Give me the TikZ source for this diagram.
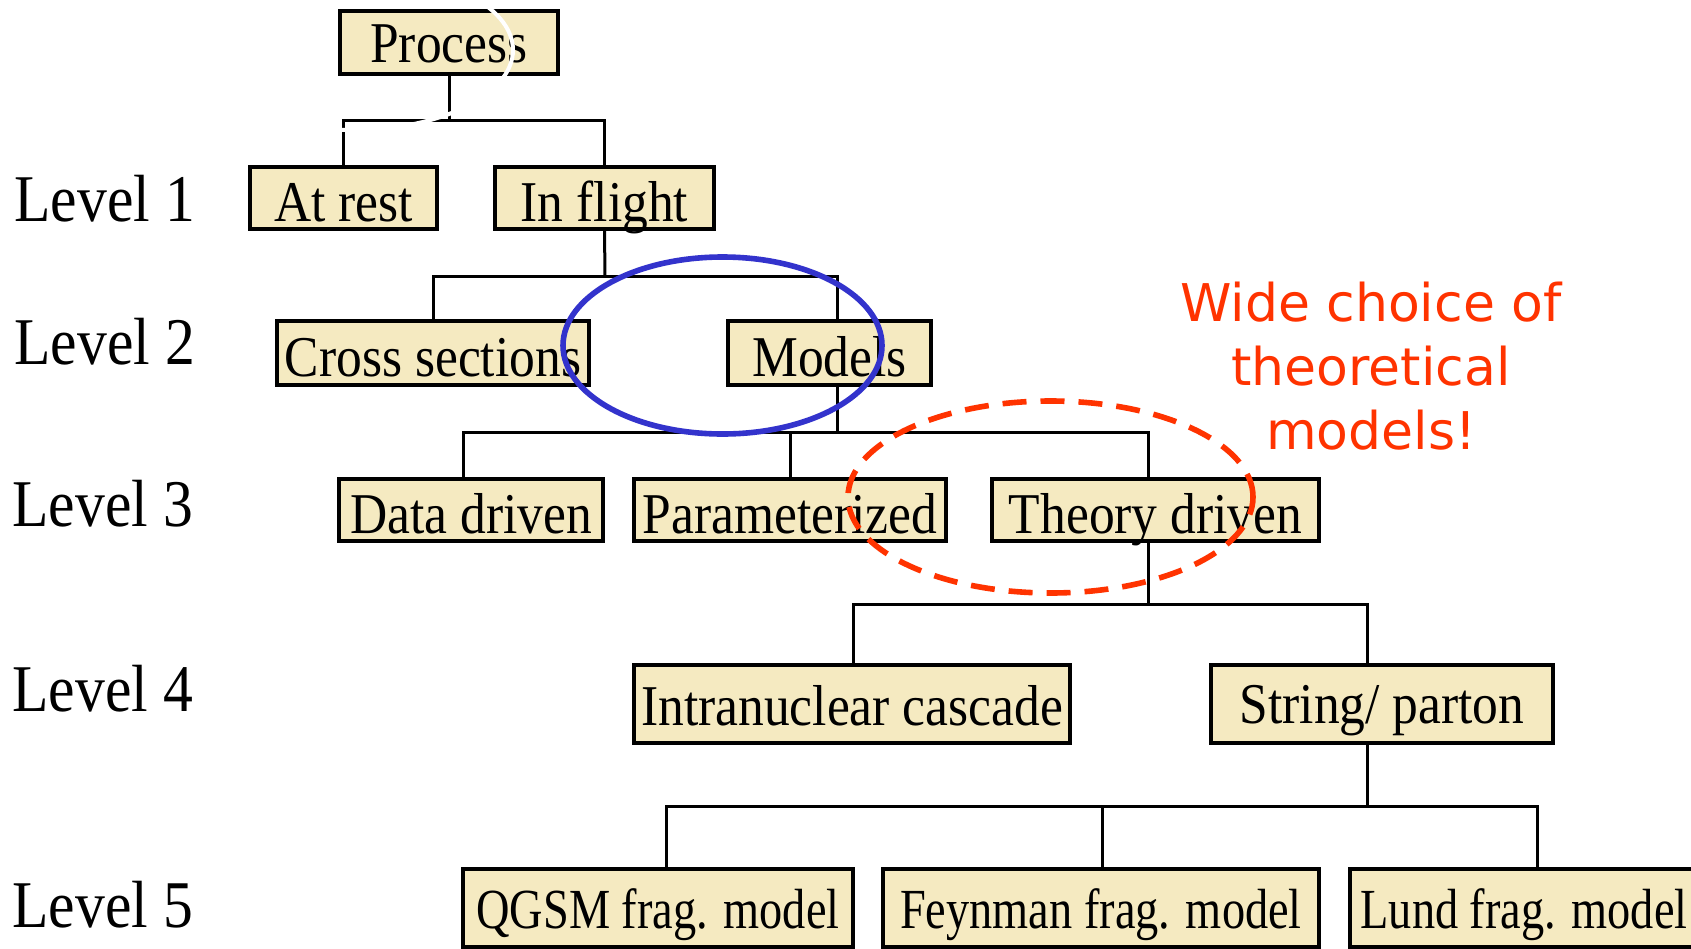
\documentclass[tikz,border=0pt]{standalone}
\usepackage{fontspec}
\setmainfont{Liberation Serif}
\newfontfamily\notefont{DejaVu Sans}
\usepackage{graphicx}
\definecolor{boxfill}{RGB}{245,234,193}
\definecolor{ovalblue}{RGB}{51,51,204}
\definecolor{notered}{RGB}{255,51,0}
\newcommand\tx[1]{\scalebox{1}[1.12]{#1}}
\newcommand\txb[1]{\scalebox{0.9}[1.1]{#1}}
\begin{document}
\begin{tikzpicture}[x=0.5pt,y=-0.5pt,
  box/.style={draw, line width=1.8pt, fill=boxfill, inner sep=0pt,
    font=\fontsize{25.75}{30}\selectfont, text height=23pt, text depth=0pt},
  conn/.style={line width=1.5pt},
  lvl/.style={anchor=base west, inner sep=0pt, font=\fontsize{29.8}{34}\selectfont}]
\useasboundingbox (0,0) rectangle (1691,948);
\fill[white] (0,0) rectangle (1691,948);

% level labels
\node[lvl] (l1) at (14,221) {\tx{Level 1}};
\node[lvl] (l2) at (14,364) {\tx{Level 2}};
\node[lvl] (l3) at (12,526) {\tx{Level 3}};
\node[lvl] (l4) at (12,711) {\tx{Level 4}};
\node[lvl] (l5) at (12,927) {\tx{Level 5}};

% boxes
\node[box, text height=20pt, minimum width=109pt, minimum height=31.5pt] (proc) at (449,42.5) {\tx{Process}};
\node[box, minimum width=93.5pt, minimum height=31pt] (rest) at (343.5,198) {\tx{At rest}};
\node[box, minimum width=109.5pt, minimum height=31pt] (flight) at (604.5,198) {\tx{In flight}};
\node[box, minimum width=156pt, minimum height=32pt] (cross) at (433,353) {\tx{Cross sections}};
\node[box, minimum width=101.5pt, minimum height=32pt] (models) at (829.5,353) {\tx{Models}};
\node[box, minimum width=132pt, minimum height=31pt] (data) at (471,510) {\tx{Data driven}};
\node[box, minimum width=156pt, minimum height=31pt] (param) at (790,510) {\tx{Parameterized}};
\node[box, minimum width=163.5pt, minimum height=31pt] (theory) at (1155.5,510) {\tx{Theory driven}};
\node[box, text height=21pt, minimum width=218pt, minimum height=39pt] (intra) at (852,704) {\tx{Intranuclear cascade}};
\node[box, text height=19pt, minimum width=171pt, minimum height=39pt] (string) at (1382,704) {\tx{String/ parton}};
\node[box, text height=20pt, minimum width=195pt, minimum height=39pt] (qgsm) at (658,908) {\txb{QGSM frag. model}};
\node[box, text height=20pt, minimum width=218pt, minimum height=39pt] (feyn) at (1101,908) {\txb{Feynman frag. model}};
\node[box, text height=20pt, minimum width=174pt, minimum height=39pt] (lund) at (1524,908) {\txb{Lund frag. model}};

% connectors
\coordinate (j1) at (449,120);
\draw[conn] (proc.south) -- (j1);
\draw[conn] (rest.north) |- (j1) -| (flight.north);

\coordinate (j2) at (605,276);
\draw[conn] (flight.south) -- (j2);
\draw[conn] (cross.north) |- (j2) -| ([xshift=3.75pt]models.north);

\coordinate (j3) at (837,432);
\draw[conn] ([xshift=3.75pt]models.south) -- (j3);
\draw[conn] ([xshift=-4pt]data.north) |- (j3) -| ([xshift=-3.75pt]theory.north);
\draw[conn] (param.north) -- (param.north |- j3);

\coordinate (j4) at (1148,604);
\draw[conn] ([xshift=-3.75pt]theory.south) -- (j4);
\draw[conn] ([xshift=0.5pt]intra.north) |- (j4) -| ([xshift=-7.5pt]string.north);

\coordinate (j5) at (1367,806);
\draw[conn] ([xshift=-7.5pt]string.south) -- (j5);
\draw[conn] ([xshift=4pt]qgsm.north) |- (j5) -| ([xshift=6.5pt]lund.north);
\draw[conn] ([xshift=0.5pt]feyn.north) -- ([xshift=0.5pt]feyn.north |- j5);

% note
\node[anchor=base, align=center, inner sep=0pt, text=notered,
  font=\notefont\fontsize{26}{32}\selectfont] (note) at (1371,449)
  {Wide choice of\\theoretical\\models!};

% highlight ovals
\draw[white, line width=2pt] (353,50) ellipse [x radius=80pt, y radius=40pt];
\draw[ovalblue, line width=2.8pt] (722.5,345.5) ellipse [x radius=79.75pt, y radius=44.25pt];
\draw[notered, line width=2.8pt, dash pattern=on 12pt off 7pt] (1050.5,497) ellipse [x radius=101.25pt, y radius=48pt];
\end{tikzpicture}
\end{document}
